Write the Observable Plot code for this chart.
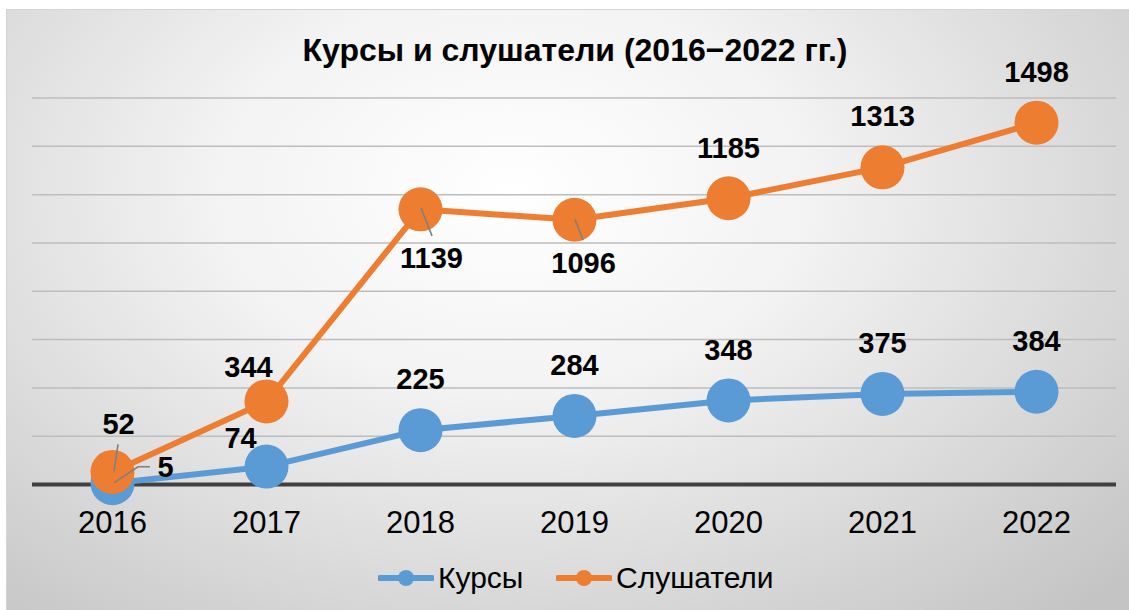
<!DOCTYPE html>
<html>
<head>
<meta charset="utf-8">
<script src="https://cdn.jsdelivr.net/npm/d3@7"></script>
<script src="https://cdn.jsdelivr.net/npm/@observablehq/plot@0.6"></script>
<style>
  html, body { margin: 0; padding: 0; background: #ffffff; }
  body { width: 1129px; height: 610px; overflow: hidden; position: relative; font-family: "Liberation Sans", Arial, sans-serif; }
  #chart {
    position: absolute; left: 6px; top: 9px; width: 1123px; height: 601px;
    border-top: 1px solid #d4d4d4; border-left: 1px solid #d4d4d4; box-sizing: border-box;
    background: radial-gradient(ellipse 75% 95% at 45% 30%, #ffffff 0%, #f3f3f3 35%, #dadada 70%, #c4c4c4 100%);
  }
  #title {
    position: absolute; left: 0; top: 21px; width: 1136px; text-align: center;
    font-weight: bold; font-size: 32px; color: #000; line-height: 38px;
  }
  #plot { position: absolute; left: -1px; top: -1px; }
  #legend { position: absolute; top: 550px; left: 0; width: 1123px; height: 36px; }
  .li { position: absolute; top: 0; height: 36px; display: flex; align-items: center; font-size: 30px; color: #000; }
  .li svg { margin-right: 4px; }
</style>
</head>
<body>
<div id="chart">
  <div id="title">Курсы и слушатели (2016−2022 гг.)</div>
  <div id="plot"></div>
  <div id="legend"></div>
</div>
<script>
// ---- data ----
const years = ["2016", "2017", "2018", "2019", "2020", "2021", "2022"];
const kursy = [5, 74, 225, 284, 348, 375, 384];
const slushateli = [52, 344, 1139, 1096, 1185, 1313, 1498];
const gridTicks = [200, 400, 600, 800, 1000, 1200, 1400, 1600];
const seriesNames = ["Курсы", "Слушатели"];
const colors = ["#5B9BD5", "#ED7D31"];

// ---- label layout (pixel offsets from the point) ----
const kursyLabelOffsets = [[53, -16], [-26, -28], [0, -50], [0, -50], [0, -50], [0, -50], [0, -50]];
const slushLabelOffsets = [[6, -47], [-18, -34], [11, 49], [9, 44], [0, -50], [0, -51], [0, -50]];
const kursyLeaders = [[[2, 0], [26, -16], [38, -16]], null, null, null, null, null, null];
const slushLeaders = [[[2, 0], [6, -27]], null, [[1, -1], [12, 27]], [[1, 0], [9, 21]], null, null, null];

const rows = (vals, s, offs, leaders) => years.map((y, i) => ({year: y, value: vals[i], series: s, off: offs[i], leader: leaders[i]}));
const kRows = rows(kursy, seriesNames[0], kursyLabelOffsets, kursyLeaders);
const sRows = rows(slushateli, seriesNames[1], slushLabelOffsets, slushLeaders);
const allRows = kRows.concat(sRows);

const labelMarks = allRows.map(d => Plot.text([d], {
  x: "year", y: "value", text: d => String(d.value),
  dx: d.off[0], dy: d.off[1],
  fontSize: 29, fontWeight: "bold", fill: "#000"
}));

function leaderMark(index, scales) {
  const g = d3.create("svg:g").attr("stroke", "#808080").attr("stroke-width", 1.6).attr("fill", "none");
  for (const d of allRows) {
    if (!d.leader) continue;
    const px = scales.x(d.year), py = scales.y(d.value);
    g.append("path").attr("d", d3.line()(d.leader.map(([a, b]) => [px + a, py + b])));
  }
  return g.node();
}

const W = 1123, H = 545;
const chart = Plot.plot({
  width: W, height: H,
  marginLeft: 26, marginRight: 13, marginTop: 88.5, marginBottom: 70,
  style: {background: "transparent", fontFamily: "'Liberation Sans', Arial, sans-serif", fontSize: "31px", color: "#000", overflow: "visible"},
  x: {type: "point", domain: years, padding: 0.5, label: null},
  y: {domain: [0, 1600], label: null, axis: null},
  marks: [
    Plot.ruleY(gridTicks, {stroke: "#bdbdbd", strokeWidth: 1.5}),
    Plot.ruleY([0], {stroke: "#404040", strokeWidth: 4}),
    Plot.axisX({tickSize: 0, tickPadding: 26, fontSize: 31, label: null, fill: "#000"}),
    Plot.line(kRows, {x: "year", y: "value", stroke: colors[0], strokeWidth: 6}),
    Plot.dot(kRows, {x: "year", y: "value", r: 22, fill: colors[0]}),
    Plot.line(sRows, {x: "year", y: "value", stroke: colors[1], strokeWidth: 6}),
    Plot.dot(sRows, {x: "year", y: "value", r: 22, fill: colors[1]}),
    leaderMark,
    ...labelMarks
  ]
});
document.getElementById("plot").appendChild(chart);

// ---- legend ----
const legend = d3.select("#legend");
const legendX = [371, 549];
seriesNames.forEach((name, i) => {
  const item = legend.append("div").attr("class", "li").style("left", legendX[i] + "px");
  const sw = item.append("svg").attr("width", 56).attr("height", 20);
  sw.append("line").attr("x1", 2).attr("x2", 54).attr("y1", 10).attr("y2", 10)
    .attr("stroke", colors[i]).attr("stroke-width", 6).attr("stroke-linecap", "round");
  sw.append("circle").attr("cx", 28).attr("cy", 10).attr("r", 8).attr("fill", colors[i]);
  item.append("span").text(name);
});
</script>
</body>
</html>
